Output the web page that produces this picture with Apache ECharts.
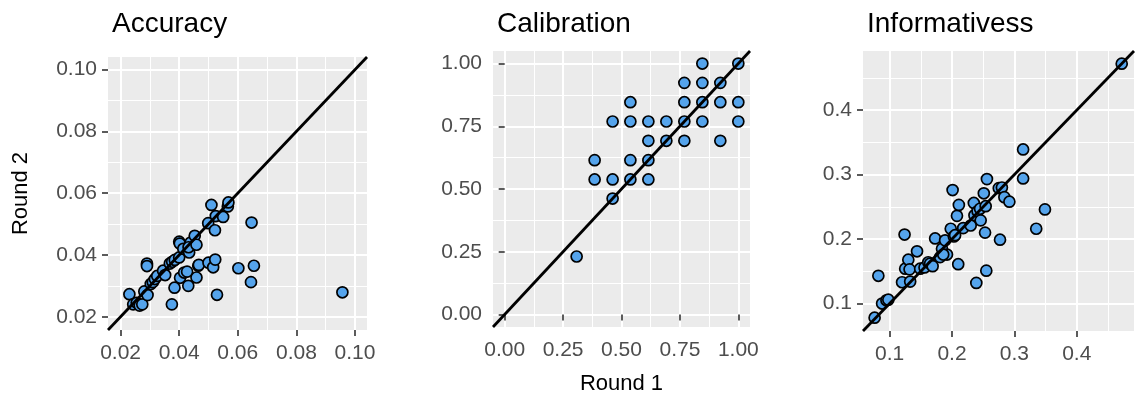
<!DOCTYPE html>
<html>
<head>
<meta charset="utf-8">
<script src="https://cdn.jsdelivr.net/npm/echarts@6/dist/echarts.min.js"></script>
<style>
  html, body { margin: 0; padding: 0; background: #fff; }
  #chart { width: 1139px; height: 400px; }
</style>
</head>
<body>
<div id="chart"></div>
<script>
// panel titles
var titles = ['Accuracy', 'Calibration', 'Informativess'];

// Accuracy: [round 1, round 2]
var accuracyPoints = [
    [0.0230, 0.0273], [0.0243, 0.0240], [0.0255, 0.0245], [0.0265, 0.0236], [0.0274, 0.0240],
    [0.0281, 0.0282], [0.0292, 0.0270], [0.0290, 0.0372], [0.0290, 0.0364], [0.0303, 0.0306],
    [0.0310, 0.0312], [0.0317, 0.0322], [0.0325, 0.0332], [0.0345, 0.0349], [0.0352, 0.0335],
    [0.0368, 0.0372], [0.0376, 0.0378], [0.0375, 0.0240], [0.0384, 0.0294], [0.0385, 0.0384],
    [0.0400, 0.0443], [0.0402, 0.0437], [0.0400, 0.0392], [0.0403, 0.0326], [0.0414, 0.0420],
    [0.0417, 0.0343], [0.0427, 0.0346], [0.0431, 0.0300], [0.0434, 0.0408], [0.0439, 0.0440],
    [0.0432, 0.0425], [0.0453, 0.0462], [0.0459, 0.0433], [0.0459, 0.0327], [0.0465, 0.0365],
    [0.0467, 0.0368], [0.0499, 0.0503], [0.0500, 0.0375], [0.0510, 0.0562], [0.0516, 0.0360],
    [0.0522, 0.0480], [0.0523, 0.0385], [0.0525, 0.0526], [0.0529, 0.0271], [0.0550, 0.0523],
    [0.0566, 0.0557], [0.0568, 0.0570], [0.0602, 0.0357], [0.0645, 0.0312], [0.0647, 0.0505],
    [0.0655, 0.0365], [0.0957, 0.0279]
];

// Calibration
var calibrationPoints = [
    [0.308, 0.231], [0.385, 0.615], [0.385, 0.538], [0.462, 0.769], [0.462, 0.538],
    [0.462, 0.462], [0.538, 0.846], [0.538, 0.769], [0.538, 0.615], [0.538, 0.538],
    [0.615, 0.769], [0.615, 0.692], [0.615, 0.615], [0.615, 0.538], [0.692, 0.769],
    [0.692, 0.692], [0.769, 0.923], [0.769, 0.846], [0.769, 0.769], [0.769, 0.692],
    [0.846, 1.000], [0.846, 0.923], [0.846, 0.846], [0.846, 0.769], [0.923, 0.923],
    [0.923, 0.846], [0.923, 0.692], [1.000, 1.000], [1.000, 0.846], [1.000, 0.769]
];

// Informativess
var informativePoints = [
    [0.076, 0.078], [0.082, 0.143], [0.088, 0.100], [0.095, 0.105], [0.098, 0.106],
    [0.120, 0.133], [0.124, 0.207], [0.125, 0.154], [0.130, 0.168], [0.132, 0.153],
    [0.133, 0.134], [0.144, 0.181], [0.149, 0.154], [0.156, 0.156], [0.162, 0.164],
    [0.165, 0.162], [0.169, 0.158], [0.173, 0.201], [0.181, 0.172], [0.184, 0.185],
    [0.189, 0.198], [0.192, 0.176], [0.186, 0.176], [0.198, 0.216], [0.201, 0.276],
    [0.203, 0.204], [0.205, 0.206], [0.208, 0.236], [0.210, 0.161], [0.211, 0.253],
    [0.218, 0.217], [0.230, 0.221], [0.235, 0.256], [0.236, 0.237], [0.239, 0.132],
    [0.241, 0.243], [0.245, 0.247], [0.246, 0.229], [0.251, 0.271], [0.253, 0.210],
    [0.254, 0.251], [0.255, 0.151], [0.256, 0.293], [0.275, 0.279], [0.277, 0.199],
    [0.280, 0.280], [0.284, 0.265], [0.292, 0.258], [0.314, 0.339], [0.314, 0.294],
    [0.335, 0.216], [0.349, 0.246], [0.472, 0.472]
];

// axis limits (same on x and y) and breaks
var accuracyRange = [0.0157, 0.1041];
var calibrationRange = [-0.05, 1.05];
var informativeRange = [0.0574, 0.4917];

var accuracyTicks = [0.02, 0.04, 0.06, 0.08, 0.10];
var accuracyMinor = [0.03, 0.05, 0.07, 0.09];
var calibrationTicks = [0, 0.25, 0.5, 0.75, 1];
var calibrationMinor = [0.125, 0.375, 0.625, 0.875];
var informativeTicks = [0.1, 0.2, 0.3, 0.4];
var informativeMinor = [0.15, 0.25, 0.35, 0.45];

var font = 'Liberation Sans, Arial, Helvetica, sans-serif';

var panels = [
    { pts: accuracyPoints, range: accuracyRange, ticks: accuracyTicks, minor: accuracyMinor, dec: 2,
      box: { left: 108, top: 57, width: 259, height: 273 } },
    { pts: calibrationPoints, range: calibrationRange, ticks: calibrationTicks, minor: calibrationMinor, dec: 2,
      box: { left: 493, top: 51, width: 257, height: 280 } },
    { pts: informativePoints, range: informativeRange, ticks: informativeTicks, minor: informativeMinor, dec: 1,
      box: { left: 863, top: 51, width: 271, height: 280 } }
];

var grid = [], xAxis = [], yAxis = [], series = [], title = [];

panels.forEach(function (p, i) {
    grid.push({
        left: p.box.left, top: p.box.top, width: p.box.width, height: p.box.height,
        show: true, backgroundColor: '#EBEBEB', borderWidth: 0
    });
    title.push({
        text: titles[i], left: p.box.left - 1, top: 5,
        textStyle: { fontFamily: font, fontSize: 28, fontWeight: 'normal', color: '#000' }
    });
    var fmt = function (v) { return v.toFixed(p.dec); };
    // main axes carry ticks, labels and major grid
    var mainAxis = function (isX) {
        return {
            type: 'value', gridIndex: i, min: p.range[0], max: p.range[1],
            axisLine: { show: false },
            axisTick: { show: true, length: 6, customValues: p.ticks, lineStyle: { color: '#333333', width: 1.6 } },
            axisLabel: { customValues: p.ticks, formatter: fmt, color: '#4D4D4D', fontSize: 21, fontFamily: font, margin: isX ? 13 : 11 },
            splitLine: { show: true, lineStyle: { color: '#FFFFFF', width: 2 } },
            z: 1
        };
    };
    // helper axes only for the minor grid
    var minorAxis = function (isX) {
        return {
            type: 'value', gridIndex: i, min: p.range[0], max: p.range[1],
            axisLine: { show: false },
            axisTick: { show: false, customValues: p.minor },
            axisLabel: { show: false, customValues: p.minor },
            splitLine: { show: true, lineStyle: { color: '#FFFFFF', width: 1 } },
            z: 0
        };
    };
    var xa = mainAxis(true), ya = mainAxis(false);
    if (i === 1) {
        xa.name = 'Round 1';
        xa.nameLocation = 'middle';
        xa.nameGap = 46;
        xa.nameTextStyle = { fontFamily: font, fontSize: 22, color: '#000' };
    }
    if (i === 0) {
        ya.name = 'Round 2';
        ya.nameLocation = 'middle';
        ya.nameRotate = 90;
        ya.nameGap = 76;
        ya.nameTextStyle = { fontFamily: font, fontSize: 22, color: '#000' };
    }
    xAxis.push(xa);
    yAxis.push(ya);
    xAxis.push(minorAxis(true));
    yAxis.push(minorAxis(false));

    series.push({
        type: 'scatter', xAxisIndex: 2 * i, yAxisIndex: 2 * i,
        data: p.pts, symbolSize: 11, z: 2,
        itemStyle: { color: '#55A4EC', borderColor: '#000', borderWidth: 1.7, opacity: 1 }
    });
    series.push({
        type: 'line', xAxisIndex: 2 * i, yAxisIndex: 2 * i,
        data: [[p.range[0], p.range[0]], [p.range[1], p.range[1]]],
        showSymbol: false, symbol: 'none', z: 3,
        lineStyle: { color: '#000', width: 2.8 }
    });
});

var chart = echarts.init(document.getElementById('chart'));
chart.setOption({
    animation: false,
    backgroundColor: '#fff',
    title: title,
    grid: grid,
    xAxis: xAxis,
    yAxis: yAxis,
    series: series
});
</script>
</body>
</html>
